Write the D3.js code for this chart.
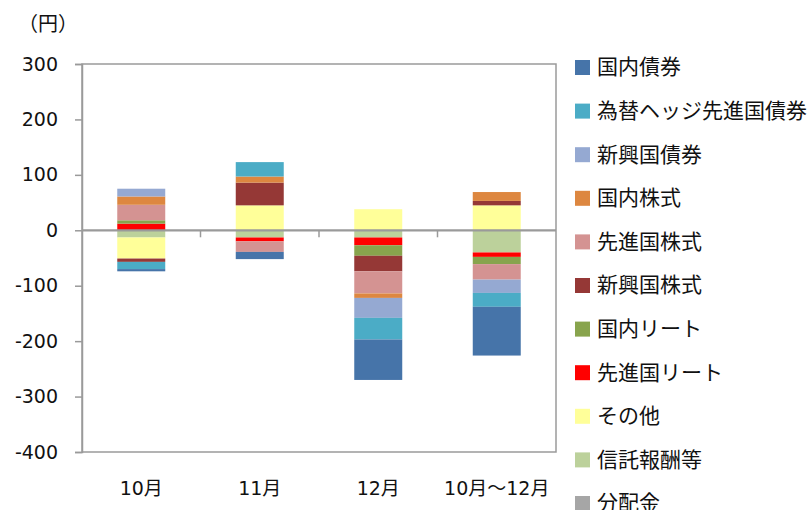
<!DOCTYPE html>
<html>
<head>
<meta charset="utf-8">
<script src="https://cdn.jsdelivr.net/npm/d3@7"></script>
<style>
  body { margin: 0; background: #fff; }
  text { font-family: "DejaVu Sans", "Noto Sans CJK JP", sans-serif; fill: #111; }
</style>
</head>
<body>
<div id="chart"></div>
<script>
// categories and series (legend order)
var categories = ["10月", "11月", "12月", "10月～12月"];
var seriesNames = ["国内債券", "為替ヘッジ先進国債券", "新興国債券", "国内株式", "先進国株式",
  "新興国株式", "国内リート", "先進国リート", "その他", "信託報酬等", "分配金"];
var seriesColors = ["#4674a9", "#4bacc6", "#95a9d2", "#dd8740", "#d49392",
  "#953836", "#88a44d", "#ff0000", "#ffff99", "#bcd19b", "#a6a6a6"];

// values per series, one per category (円)
var kokunaiSaiken   = [-4, -13, -73, -88];
var hedgeSaiken     = [-13, 26, -39, -25];
var shinkoSaiken    = [14, 0, -36, -24];
var kokunaiKabu     = [15, 11, -8, 16];
var senshinKabu     = [28, -19, -40, -28];
var shinkoKabu      = [-6, 41, -28, 8];
var kokunaiReit     = [6, 0, -19, -13];
var senshinReit     = [12, -7, -14, -8];
var sonota          = [-38, 45, 38, 45];
var shintakuHoshu   = [-13, -13, -13, -40];
var bunpaikin       = [0, 0, 0, 0];

var yTicks = [300, 200, 100, 0, -100, -200, -300, -400];

var allValues = [kokunaiSaiken, hedgeSaiken, shinkoSaiken, kokunaiKabu, senshinKabu,
  shinkoKabu, kokunaiReit, senshinReit, sonota, shintakuHoshu, bunpaikin];

var rows = categories.map(function(c, i) {
  var r = { cat: c };
  seriesNames.forEach(function(s, j) { r[s] = allValues[j][i]; });
  return r;
});

var W = 811, H = 510;
var plot = { left: 82, right: 556, top: 64, bottom: 452 };

var svg = d3.select("#chart").append("svg")
  .attr("width", W).attr("height", H);

var x = d3.scaleBand()
  .domain(categories)
  .range([plot.left, plot.right])
  .paddingInner(0.595)
  .paddingOuter(0.2975);

var y = d3.scaleLinear()
  .domain([-400, 300])
  .range([plot.bottom, plot.top]);

var color = d3.scaleOrdinal().domain(seriesNames).range(seriesColors);

// stacked from the last series outwards, like the original
var stack = d3.stack()
  .keys(seriesNames.slice().reverse())
  .offset(d3.stackOffsetDiverging);
var layers = stack(rows);

// plot frame
svg.append("rect")
  .attr("x", plot.left).attr("y", plot.top)
  .attr("width", plot.right - plot.left)
  .attr("height", plot.bottom - plot.top)
  .attr("fill", "none")
  .attr("stroke", "#9a9a9a")
  .attr("stroke-width", 1.5);

// bars
svg.append("g").selectAll("g")
  .data(layers)
  .join("g")
    .attr("fill", function(d) { return color(d.key); })
  .selectAll("rect")
  .data(function(d) { return d; })
  .join("rect")
    .attr("x", function(d) { return x(d.data.cat); })
    .attr("width", x.bandwidth())
    .attr("y", function(d) { return y(Math.max(d[0], d[1])); })
    .attr("height", function(d) { return Math.abs(y(d[0]) - y(d[1])); });

// y axis (plain hyphen for negatives)
var yAxis = d3.axisLeft(y).tickValues(yTicks).tickSize(7).tickPadding(17)
  .tickFormat(function(d) { return String(d); });
var gy = svg.append("g")
  .attr("transform", "translate(" + plot.left + ",0)")
  .call(yAxis);
gy.select(".domain").attr("stroke", "#9a9a9a").attr("stroke-width", 1.5);
gy.selectAll(".tick line").attr("stroke", "#9a9a9a").attr("stroke-width", 1.5);
gy.selectAll(".tick text")
  .style("font-size", "19px")
  .style("font-family", "'DejaVu Sans', 'Noto Sans CJK JP', sans-serif")
  .attr("fill", "#111");

// zero line with category separator ticks
svg.append("line")
  .attr("x1", plot.left).attr("x2", plot.right)
  .attr("y1", y(0)).attr("y2", y(0))
  .attr("stroke", "#9a9a9a").attr("stroke-width", 2.2);

var step = x.step();
svg.append("g").selectAll("line")
  .data(categories.slice(1))
  .join("line")
    .attr("x1", function(d) { return x(d) - (step - x.bandwidth()) / 2; })
    .attr("x2", function(d) { return x(d) - (step - x.bandwidth()) / 2; })
    .attr("y1", y(0)).attr("y2", y(0) + 7)
    .attr("stroke", "#9a9a9a").attr("stroke-width", 1.5);

// category labels
svg.append("g").selectAll("text")
  .data(categories)
  .join("text")
    .attr("x", function(d) { return x(d) + x.bandwidth() / 2; })
    .attr("y", 495)
    .attr("text-anchor", "middle")
    .style("font-size", "19px")
    .text(function(d) { return d; });

// unit label
svg.append("text")
  .attr("x", 18).attr("y", 31)
  .style("font-size", "20px")
  .text("（円）");

// legend
var legend = svg.append("g").selectAll("g")
  .data(seriesNames)
  .join("g")
    .attr("transform", function(d, i) { return "translate(575," + (67 + i * 43.6) + ")"; });

legend.append("rect")
  .attr("x", 0).attr("y", -7)
  .attr("width", 15).attr("height", 15)
  .attr("fill", function(d) { return color(d); });

legend.append("text")
  .attr("x", 22).attr("y", 0)
  .attr("dy", "0.35em")
  .style("font-size", "21px")
  .text(function(d) { return d; });
</script>
</body>
</html>
